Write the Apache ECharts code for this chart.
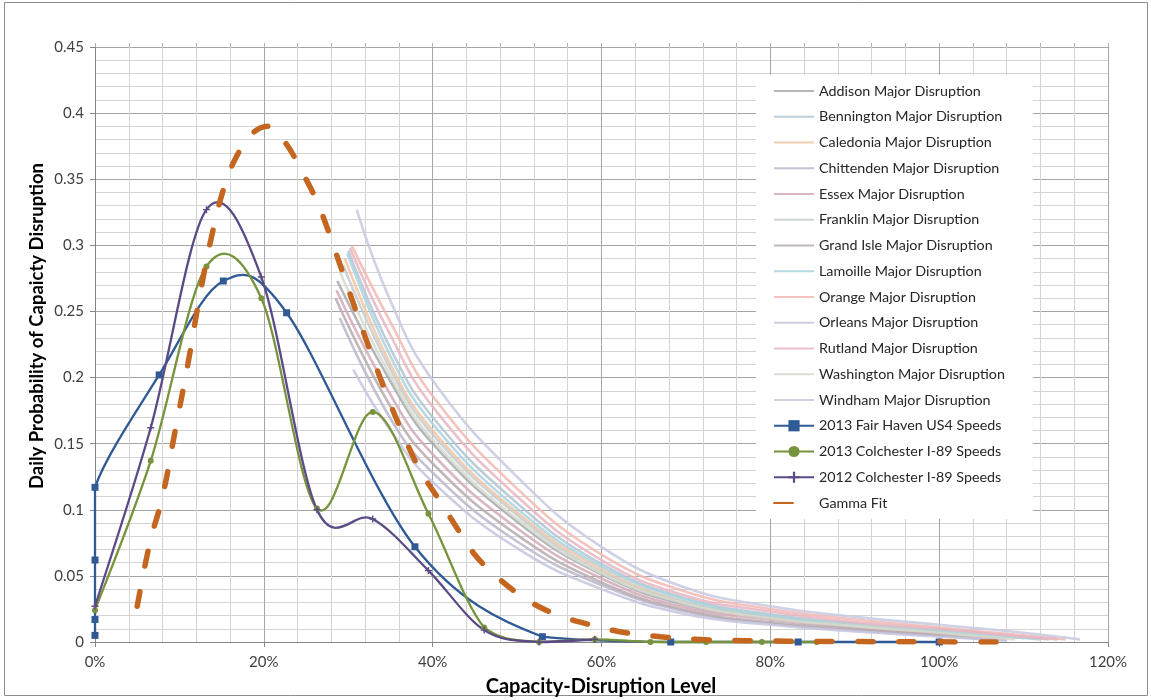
<!DOCTYPE html>
<html>
<head>
<meta charset="utf-8">
<title>Daily Probability of Capacity Disruption</title>
<script src="https://cdn.jsdelivr.net/npm/echarts@6/dist/echarts.min.js"></script>
<style>
  html, body { margin: 0; padding: 0; background: #ffffff; }
  #chart { width: 1151px; height: 700px; }
</style>
</head>
<body>
<div id="chart"></div>
<script>
// ---- County major-disruption curves: [capacity-disruption level %, daily probability] ----
const addison    = [[28.7,0.273],[35,0.197],[40,0.150],[50,0.091],[60,0.051],[70,0.028],[80,0.018],[90,0.012],[100,0.007],[108,0.002]];
const bennington = [[30.0,0.296],[35,0.222],[40,0.170],[50,0.105],[60,0.059],[70,0.033],[80,0.021],[90,0.014],[100,0.009],[110,0.004],[113,0.002]];
const caledonia  = [[29.6,0.290],[35,0.210],[40,0.160],[50,0.098],[60,0.055],[70,0.030],[80,0.019],[90,0.013],[100,0.008],[110,0.003]];
const chittenden = [[29.0,0.245],[35,0.169],[40,0.128],[50,0.076],[60,0.043],[70,0.023],[80,0.014],[90,0.009],[100,0.005],[106,0.002]];
const essex      = [[28.6,0.266],[35,0.187],[40,0.142],[50,0.086],[60,0.048],[70,0.026],[80,0.017],[90,0.011],[100,0.006],[108,0.002]];
const franklin   = [[29.4,0.285],[35,0.206],[40,0.157],[50,0.096],[60,0.053],[70,0.030],[80,0.019],[90,0.012],[100,0.008],[110,0.003]];
const grandIsle  = [[28.5,0.260],[35,0.178],[40,0.135],[50,0.081],[60,0.045],[70,0.024],[80,0.015],[90,0.010],[100,0.005],[107,0.002]];
const lamoille   = [[29.9,0.294],[35,0.216],[40,0.165],[50,0.101],[60,0.057],[70,0.032],[80,0.020],[90,0.013],[100,0.008],[110,0.003],[112,0.002]];
const orange     = [[30.4,0.300],[35,0.242],[40,0.186],[50,0.116],[60,0.066],[70,0.038],[80,0.025],[90,0.017],[100,0.011],[110,0.005],[115,0.002]];
const orleans    = [[30.6,0.206],[35,0.160],[40,0.121],[50,0.071],[60,0.040],[70,0.021],[80,0.013],[90,0.008],[100,0.004],[108,0.001]];
const rutland    = [[30.2,0.298],[35,0.232],[40,0.178],[50,0.110],[60,0.062],[70,0.035],[80,0.023],[90,0.015],[100,0.010],[110,0.004],[114,0.002]];
const washington = [[29.0,0.280],[35,0.201],[40,0.153],[50,0.093],[60,0.052],[70,0.029],[80,0.018],[90,0.012],[100,0.007],[109,0.002]];
const windham    = [[31.0,0.327],[35,0.258],[40,0.198],[50,0.125],[60,0.072],[70,0.041],[80,0.027],[90,0.019],[100,0.013],[110,0.007],[116.7,0.002]];

const countyNames = ['Addison','Bennington','Caledonia','Chittenden','Essex','Franklin','Grand Isle',
                     'Lamoille','Orange','Orleans','Rutland','Washington','Windham'];
const countyCurves = [addison, bennington, caledonia, chittenden, essex, franklin, grandIsle,
                      lamoille, orange, orleans, rutland, washington, windham];

// ---- Observed speed-based distributions ----
const fairHavenX = [0, 0, 0, 0, 7.6, 15.2, 22.7, 37.9, 53.0, 68.2, 83.3, 100];
const fairHavenY = [0.005, 0.017, 0.062, 0.117, 0.202, 0.273, 0.249, 0.072, 0.004, 0, 0, 0];

const colchester2013X = [0, 6.6, 13.2, 19.7, 26.3, 32.9, 39.5, 46.1, 52.6, 59.2, 65.8, 72.4, 79.0, 85.5];
const colchester2013Y = [0.024, 0.137, 0.284, 0.260, 0.101, 0.174, 0.097, 0.011, 0, 0.002, 0, 0, 0, 0];

const colchester2012X = [0, 6.6, 13.2, 19.7, 26.3, 32.9, 39.5, 46.1, 52.6, 59.2];
const colchester2012Y = [0.027, 0.162, 0.327, 0.276, 0.100, 0.093, 0.054, 0.009, 0, 0.002];

// ---- Fitted gamma distribution ----
const gammaX = [5.0, 6.5, 8.0, 9.5, 11.0, 12.5, 14.0, 15.5, 17.0, 18.5, 20.5, 22.5, 24.5, 26.5, 28.5,
                30.5, 32.5, 34.5, 36.5, 38.5, 40.5, 42.5, 45, 47.5, 50, 52.5, 55, 57.5, 62, 67, 72, 77,
                82, 90, 100, 108.5];
const gammaY = [0.027, 0.075, 0.110, 0.160, 0.210, 0.265, 0.312, 0.348, 0.370, 0.384, 0.390, 0.378,
                0.356, 0.330, 0.295, 0.258, 0.222, 0.188, 0.157, 0.130, 0.110, 0.090, 0.066, 0.050,
                0.037, 0.027, 0.020, 0.015, 0.008, 0.004, 0.0018, 0.001, 0.0006, 0.0003, 0.0001, 0];

// ---- Axis ticks ----
const xMin = 0, xMax = 120, xStep = 20;
const yMin = 0, yMax = 0.45, yStep = 0.05;

// ---- Styles ----
const FONT = 'Lato, "Open Sans", sans-serif';
const countyColors = ['#a9aab0', '#b3c6d1', '#f3c4a2', '#bab6cb', '#d3a9b8', '#c5cccc', '#b8aab0',
                      '#a9d2de', '#f2b8b3', '#c4c4de', '#e8b5c1', '#d6d9cb', '#c7c9e0'];
const blue = '#2f5a95', green = '#77933c', purple = '#5b4a86', gammaColor = '#c4661f';
const noSymbol = { color: 'rgba(0,0,0,0)', opacity: 0 };

const zip = (xs, ys) => xs.map((x, i) => [x, ys[i]]);

// Cubic Bezier through every point (Catmull-Rom tangents), in pixel space from the axes.
// Control points are kept inside the plot rectangle.
function curvePath(xs, ys, api, box) {
  const cx = v => Math.min(Math.max(v, box.x), box.x + box.width);
  const cy = v => Math.min(Math.max(v, box.y), box.y + box.height);
  const p = xs.map((x, i) => api.coord([x, ys[i]]));
  let d = 'M' + p[0][0] + ',' + p[0][1];
  for (let i = 0; i < p.length - 1; i++) {
    const p0 = p[i - 1] || p[i], p1 = p[i], p2 = p[i + 1], p3 = p[i + 2] || p[i + 1];
    if (p1[0] === p2[0]) {            // vertical run of points: straight segment
      d += ' L' + p2[0] + ',' + p2[1];
      continue;
    }
    const c1x = cx(p1[0] + (p2[0] - p0[0]) / 6), c1y = cy(p1[1] + (p2[1] - p0[1]) / 6);
    const c2x = cx(p2[0] - (p3[0] - p1[0]) / 6), c2y = cy(p2[1] - (p3[1] - p1[1]) / 6);
    d += ' C' + c1x + ',' + c1y + ' ' + c2x + ',' + c2y + ' ' + p2[0] + ',' + p2[1];
  }
  return d;
}

function curveSeries(id, xs, ys, color, width) {
  return {
    id: id,
    type: 'custom',
    silent: true,
    data: [[xs[0], ys[0]]],
    z: 3,
    renderItem: (params, api) => ({
      type: 'path',
      shape: { pathData: curvePath(xs, ys, api, params.coordSys) },
      style: { fill: 'none', stroke: color, lineWidth: width, lineJoin: 'round' }
    })
  };
}

const series = [];
countyCurves.forEach((curve, i) => {
  series.push({
    name: countyNames[i] + ' Major Disruption',
    type: 'line',
    data: curve,
    smooth: 0.45,
    symbol: 'none',
    showSymbol: false,
    lineStyle: { width: 2.6, color: countyColors[i], opacity: 0.85 },
    itemStyle: noSymbol,
    z: 2
  });
});

// Observed series: markers + legend entry here, curve drawn by the custom series
const observed = [
  { name: '2013 Fair Haven US4 Speeds',  xs: fairHavenX,      ys: fairHavenY,      color: blue,
    symbol: 'rect', size: 7 },
  { name: '2013 Colchester I-89 Speeds', xs: colchester2013X, ys: colchester2013Y, color: green,
    symbol: 'circle', size: 6 },
  { name: '2012 Colchester I-89 Speeds', xs: colchester2012X, ys: colchester2012Y, color: purple,
    symbol: 'path://M4,0h2v4h4v2h-4v4h-2v-4h-4v-2h4z', size: 7 }
];
observed.forEach((o, i) => {
  series.push(curveSeries('curve' + i, o.xs, o.ys, o.color, 2.3));
  series.push({
    name: o.name,
    type: 'line',
    data: zip(o.xs, o.ys),
    symbol: o.symbol,
    symbolSize: o.size,
    showAllSymbol: true,
    lineStyle: { width: 2.3, color: o.color, opacity: 0 },
    itemStyle: { color: o.color },
    z: 4
  });
});

series.push({
  name: 'Gamma Fit',
  type: 'line',
  data: zip(gammaX, gammaY),
  smooth: 0.4,
  symbol: 'none',
  showSymbol: false,
  lineStyle: { width: 5.5, color: gammaColor, type: [15, 26], cap: 'round' },
  itemStyle: noSymbol,
  z: 5
});

const legendData = series.filter(s => s.name).map(s => {
  if (s.name === 'Gamma Fit') return { name: s.name, lineStyle: { type: [19, 40] } };
  if (s.lineStyle.opacity === 0) return { name: s.name, lineStyle: { opacity: 1 } };
  return { name: s.name };
});

const chart = echarts.init(document.getElementById('chart'), null, { renderer: 'canvas' });
chart.setOption({
  animation: false,
  backgroundColor: '#ffffff',
  textStyle: { fontFamily: FONT },
  grid: { left: 95, right: 43, top: 47, bottom: 58, containLabel: false },
  xAxis: [{
    type: 'value',
    min: xMin, max: xMax, interval: xStep,
    axisLine: { show: true, lineStyle: { color: '#868686', width: 1 } },
    axisTick: { show: true, length: 5, lineStyle: { color: '#868686' } },
    axisLabel: { formatter: v => v + '%', fontSize: 15, color: '#404040', margin: 13, fontFamily: FONT },
    splitLine: { show: true, lineStyle: { color: '#a6a6a6', width: 1 } },
    minorTick: { show: false, splitNumber: 5 },
    minorSplitLine: { show: true, lineStyle: { color: '#d4d4d4', width: 1 } }
  }, {
    type: 'value',
    position: 'top',
    min: xMin, max: xMax, interval: 4,
    axisLine: { show: false },
    axisTick: { show: true, length: 4, lineStyle: { color: '#b0b0b0' } },
    axisLabel: { show: false },
    splitLine: { show: false }
  }],
  yAxis: {
    type: 'value',
    min: yMin, max: yMax, interval: yStep,
    axisLine: { show: true, lineStyle: { color: '#868686', width: 1 } },
    axisTick: { show: true, length: 5, lineStyle: { color: '#868686' } },
    axisLabel: { fontSize: 15, color: '#404040', margin: 11, fontFamily: FONT },
    splitLine: { show: true, lineStyle: { color: '#a6a6a6', width: 1 } },
    minorTick: { show: false, splitNumber: 5 },
    minorSplitLine: { show: true, lineStyle: { color: '#d4d4d4', width: 1 } }
  },
  legend: {
    orient: 'vertical',
    left: 756,
    top: 75,
    padding: [9, 28, 9, 17],
    backgroundColor: '#ffffff',
    itemWidth: 40,
    itemHeight: 14,
    itemGap: 11.75,
    selectedMode: false,
    textStyle: { fontFamily: FONT, fontSize: 14.3, color: '#262626' },
    data: legendData,
    z: 10
  },
  graphic: [
    {
      type: 'rect',
      shape: { x: 4.5, y: 2.5, width: 1143, height: 693 },
      style: { fill: 'none', stroke: '#8c8c8c', lineWidth: 1 },
      silent: true, z: -1
    },
    {
      type: 'text',
      x: 37, y: 326,
      rotation: Math.PI / 2,
      style: {
        text: 'Daily Probability of Capaicty Disruption',
        font: 'bold 18.5px ' + FONT,
        fill: '#000000',
        textAlign: 'center',
        textVerticalAlign: 'middle'
      }
    },
    {
      type: 'text',
      x: 601, y: 687,
      style: {
        text: 'Capacity-Disruption Level',
        font: 'bold 20px ' + FONT,
        fill: '#000000',
        textAlign: 'center',
        textVerticalAlign: 'middle'
      }
    }
  ],
  series: series
});
</script>
</body>
</html>
